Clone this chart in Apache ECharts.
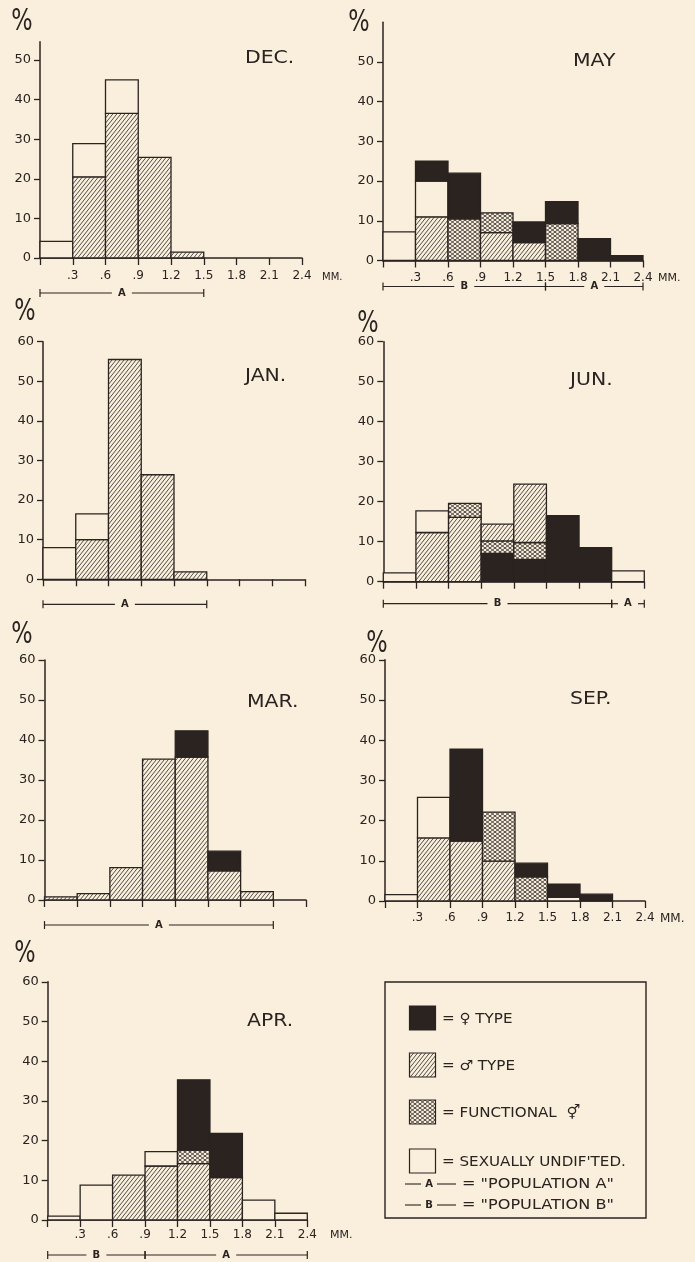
<!DOCTYPE html>
<html><head><meta charset="utf-8">
<script src="https://cdn.jsdelivr.net/npm/echarts@6/dist/echarts.min.js"></script>
<style>html,body{margin:0;padding:0;background:#f9efdc;}#c{width:695px;height:1262px;}</style>
</head><body><div id="c"></div>
<script>
// ---------- DATA ----------
const binEdges = [0, 0.3, 0.6, 0.9, 1.2, 1.5, 1.8, 2.1, 2.4];
const xTickLabels = ['.3', '.6', '.9', '1.2', '1.5', '1.8', '2.1', '2.4'];
const yTicks50 = [0, 10, 20, 30, 40, 50];
const yTicks60 = [0, 10, 20, 30, 40, 50, 60];

const decMale       = [0, 20.5, 36.5, 25.4, 1.5, 0, 0, 0];
const decFunctional = [0, 0, 0, 0, 0, 0, 0, 0];
const decUndif      = [4.2, 8.4, 8.5, 0, 0, 0, 0, 0];
const decFemale     = [0, 0, 0, 0, 0, 0, 0, 0];

const mayMale       = [0, 11, 0, 7, 4.5, 0, 0, 0];
const mayFunctional = [0, 0, 10.5, 5, 0, 9.3, 0, 0];
const mayUndif      = [7.2, 9, 0, 0, 0, 0, 0, 0];
const mayFemale     = [0, 5, 11.5, 0, 5.2, 5.5, 5.5, 1.2];

const janMale       = [0, 10, 55.5, 26.4, 1.9, 0, 0, 0];
const janFunctional = [0, 0, 0, 0, 0, 0, 0, 0];
const janUndif      = [8, 6.5, 0, 0, 0, 0, 0, 0];
const janFemale     = [0, 0, 0, 0, 0, 0, 0, 0];

const junMale       = [0, 12.3, 16.1, 4.2, 14.6, 0, 0, 0];
const junFunctional = [0, 0, 3.5, 3.1, 4.2, 0, 0, 0];
const junUndif      = [2.2, 5.4, 0, 0, 0, 0, 0, 2.7];
const junFemale     = [0, 0, 0, 7.1, 5.6, 16.5, 8.5, 0];

const marMale       = [0.8, 1.6, 8.1, 35.2, 35.7, 7.3, 2.1, 0];
const marFunctional = [0, 0, 0, 0, 0, 0, 0, 0];
const marUndif      = [0, 0, 0, 0, 0, 0, 0, 0];
const marFemale     = [0, 0, 0, 0, 6.6, 4.9, 0, 0];

const sepMale       = [0, 15.7, 14.9, 9.9, 0, 0, 0, 0];
const sepFunctional = [0, 0, 0, 12.2, 6, 0, 0, 0];
const sepUndif      = [1.6, 10.1, 0, 0, 0, 0.9, 0, 0];
const sepFemale     = [0, 0, 22.9, 0, 3.4, 3.3, 1.7, 0];

const aprMale       = [0, 0, 11.3, 13.6, 14.2, 10.7, 0, 0];
const aprFunctional = [0, 0, 0, 0, 3.4, 0, 0, 0];
const aprUndif      = [1.0, 8.8, 0, 3.6, 0, 0, 5.0, 1.7];
const aprFemale     = [0, 0, 0, 0, 17.7, 11.1, 0, 0];

// stacking order (bottom to top) within a bin
const defaultOrder = ['male', 'functional', 'undif', 'female'];
const femaleFirst = ['female', 'functional', 'male'];
const junOrder = [defaultOrder, defaultOrder, defaultOrder, femaleFirst, femaleFirst, defaultOrder, defaultOrder, defaultOrder];

// population ranges [label, from mm, to mm]
const decPopulation = [['A', 0, 1.5]];
const mayPopulation = [['B', 0, 1.5], ['A', 1.5, 2.4]];
const janPopulation = [['A', 0, 1.5]];
const junPopulation = [['B', 0, 2.1], ['A', 2.1, 2.4]];
const marPopulation = [['A', 0, 2.1]];
const sepPopulation = [];
const aprPopulation = [['B', 0, 0.9], ['A', 0.9, 2.4]];

// ---------- STYLE ----------
const ink = '#2a2320';
const bg = '#f9efdc';
const FONT = 'DejaVu Sans';

function makeHatch() {
  const w = 4, h = 5;
  const c = document.createElement('canvas'); c.width = w; c.height = h;
  const g = c.getContext('2d');
  g.fillStyle = bg; g.fillRect(0, 0, w, h);
  g.strokeStyle = ink; g.lineWidth = 0.8;
  for (const o of [-w, 0, w]) {
    g.beginPath(); g.moveTo(o - 1, h + 1.25); g.lineTo(o + w + 1, -1.25); g.stroke();
  }
  return { image: c, repeat: 'repeat' };
}
function makeCross() {
  const w = 5, h = 4;
  const c = document.createElement('canvas'); c.width = w; c.height = h;
  const g = c.getContext('2d');
  g.fillStyle = bg; g.fillRect(0, 0, w, h);
  g.strokeStyle = ink; g.lineWidth = 0.8;
  for (const o of [-w, 0, w]) {
    g.beginPath(); g.moveTo(o - 1.25, h + 1); g.lineTo(o + w + 1.25, -1); g.stroke();
    g.beginPath(); g.moveTo(o - 1.25, -1); g.lineTo(o + w + 1.25, h + 1); g.stroke();
  }
  return { image: c, repeat: 'repeat' };
}
const fills = { male: makeHatch(), functional: makeCross(), undif: bg, female: ink };
const typeList = ['male', 'functional', 'undif', 'female'];

function buildSegments(male, functional, undif, female, orders) {
  const vals = { male, functional, undif, female };
  const out = [];
  for (let b = 0; b < binEdges.length - 1; b++) {
    const order = orders ? orders[b] : defaultOrder;
    let base = 0;
    for (const t of order) {
      const v = vals[t][b];
      if (v > 0) {
        out.push([binEdges[b], binEdges[b + 1], base, base + v, typeList.indexOf(t)]);
        base += v;
      }
    }
  }
  return out;
}

// ---------- LAYOUT ----------
const panels = [
  { title: 'DEC.', seg: buildSegments(decMale, decFunctional, decUndif, decFemale), pop: decPopulation,
    yTicks: yTicks50, ymax: 54.6, left: 40, width: 262, y0: 258, unit: 3.96, xLabels: true, xMargin: 12,
    mm: [322, 277, 10], popOff: 35, tPos: [245, 59], pct: [22, 22] },
  { title: 'MAY', seg: buildSegments(mayMale, mayFunctional, mayUndif, mayFemale), pop: mayPopulation,
    yTicks: yTicks50, ymax: 60, left: 383, width: 260, y0: 260.5, unit: 3.97, xLabels: true, xMargin: 11,
    mm: [658, 278, 11], popOff: 26, tPos: [573, 62], pct: [359, 23] },
  { title: 'JAN.', seg: buildSegments(janMale, janFunctional, janUndif, janFemale), pop: janPopulation,
    yTicks: yTicks60, ymax: 60, left: 43, width: 262, y0: 579.3, unit: 3.96, xLabels: false,
    popOff: 25, tPos: [245, 377], pct: [25, 312] },
  { title: 'JUN.', seg: buildSegments(junMale, junFunctional, junUndif, junFemale, junOrder), pop: junPopulation,
    yTicks: yTicks60, ymax: 60, left: 383.3, width: 261, y0: 581.7, unit: 4.0, xLabels: false,
    popOff: 22, tPos: [570, 381], pct: [368, 324] },
  { title: 'MAR.', seg: buildSegments(marMale, marFunctional, marUndif, marFemale), pop: marPopulation,
    yTicks: yTicks60, ymax: 60, left: 44.5, width: 261.5, y0: 900, unit: 4.0, xLabels: false,
    popOff: 25, tPos: [247, 703], pct: [22, 635] },
  { title: 'SEP.', seg: buildSegments(sepMale, sepFunctional, sepUndif, sepFemale), pop: sepPopulation,
    yTicks: yTicks60, ymax: 60, left: 385, width: 260, y0: 901, unit: 4.02, xLabels: true, xMargin: 11,
    mm: [660, 919, 12], popOff: 30, tPos: [570, 700], pct: [377, 644] },
  { title: 'APR.', seg: buildSegments(aprMale, aprFunctional, aprUndif, aprFemale), pop: aprPopulation,
    yTicks: yTicks60, ymax: 60, left: 47.7, width: 259.6, y0: 1220, unit: 3.97, xLabels: true, xMargin: 9,
    mm: [330, 1235, 11], popOff: 35, tPos: [247, 1022], pct: [25, 954] }
];

function renderSegment(params, api) {
  const a = api.coord([api.value(0), api.value(2)]);
  const b = api.coord([api.value(1), api.value(3)]);
  const t = typeList[api.value(4)];
  return {
    type: 'rect',
    shape: { x: a[0], y: b[1], width: b[0] - a[0], height: a[1] - b[1] },
    style: { fill: fills[t], stroke: ink, lineWidth: 1.3 }
  };
}
function makePopRender(pop, offset) {
  return function (params, api) {
    const a = api.coord([api.value(0), 0]);
    const b = api.coord([api.value(1), 0]);
    const y = a[1] + offset;
    const mid = (a[0] + b[0]) / 2;
    const gap = Math.min(10, (b[0] - a[0]) / 2 - 5);
    const ls = { stroke: ink, lineWidth: 1.2 };
    return {
      type: 'group',
      children: [
        { type: 'line', shape: { x1: a[0], y1: y, x2: mid - gap, y2: y }, style: ls },
        { type: 'line', shape: { x1: mid + gap, y1: y, x2: b[0], y2: y }, style: ls },
        { type: 'line', shape: { x1: a[0], y1: y - 4, x2: a[0], y2: y + 4 }, style: ls },
        { type: 'line', shape: { x1: b[0], y1: y - 4, x2: b[0], y2: y + 4 }, style: ls },
        { type: 'text', style: { text: pop[params.dataIndex][0], x: mid, y: y, align: 'center', verticalAlign: 'middle',
            textAlign: 'center', textVerticalAlign: 'middle', fontSize: 10, fontWeight: 'bold', fontFamily: FONT, fill: ink } }
      ]
    };
  };
}

const grid = [], xAxis = [], yAxis = [], series = [], graphic = [];
panels.forEach((p, i) => {
  const height = p.ymax * p.unit;
  grid.push({ left: p.left, top: p.y0 - height, width: p.width, height: height, containLabel: false, outerBoundsMode: 'none' });
  xAxis.push({
    type: 'value', gridIndex: i, min: 0, max: 2.4, interval: 0.3,
    axisLine: { show: true, onZero: false, lineStyle: { color: ink, width: 1.5 } },
    axisTick: { show: true, length: 7, lineStyle: { color: ink, width: 1.3 } },
    splitLine: { show: false },
    axisLabel: {
      show: p.xLabels, margin: p.xMargin || 11, fontSize: 12, fontFamily: FONT, color: ink,
      formatter: v => { const k = Math.round(v / 0.3); return k > 0 ? xTickLabels[k - 1] : ''; }
    }
  });
  yAxis.push({
    type: 'value', gridIndex: i, min: 0, max: p.ymax,
    axisLine: { show: true, lineStyle: { color: ink, width: 1.5 } },
    axisTick: { show: true, length: 6, customValues: p.yTicks, lineStyle: { color: ink, width: 1.3 } },
    splitLine: { show: false },
    axisLabel: { customValues: p.yTicks, margin: 9, fontSize: 13, fontFamily: FONT, color: ink }
  });
  series.push({
    type: 'custom', xAxisIndex: i, yAxisIndex: i, data: p.seg, encode: { x: [0, 1], y: [2, 3] },
    renderItem: renderSegment, clip: false, silent: true, z: 3
  });
  if (p.pop.length) {
    series.push({
      type: 'custom', xAxisIndex: i, yAxisIndex: i, data: p.pop.map(s => [s[1], s[2], 0]),
      encode: { x: [0, 1], y: 2 }, renderItem: makePopRender(p.pop, p.popOff), clip: false, silent: true
    });
  }
  graphic.push({ type: 'text', x: p.tPos[0], y: p.tPos[1], scaleX: 1.2,
    style: { text: p.title, fontSize: 17, fontFamily: FONT, fill: ink, align: 'left', verticalAlign: 'middle',
             textAlign: 'left', textVerticalAlign: 'middle' } });
  graphic.push({ type: 'text', x: p.pct[0], y: p.pct[1], scaleX: 0.75,
    style: { text: '%', fontSize: 30, fontFamily: FONT, fill: ink, align: 'center', verticalAlign: 'middle',
             textAlign: 'center', textVerticalAlign: 'middle' } });
  if (p.mm) {
    graphic.push({ type: 'text', x: p.mm[0], y: p.mm[1],
      style: { text: 'MM.', fontSize: p.mm[2], fontFamily: FONT, fill: ink, align: 'left', verticalAlign: 'middle',
               textAlign: 'left', textVerticalAlign: 'middle' } });
  }
});

// ---------- LEGEND ----------
const legendItems = [
  { fill: fills.female, text: '= \u2640 TYPE', y: 1006 },
  { fill: fills.male, text: '= \u2642 TYPE', y: 1053 },
  { fill: fills.functional, text: '= FUNCTIONAL  \u26A5', y: 1100 },
  { fill: bg, text: "= SEXUALLY UNDIF'TED.", y: 1149 }
];
graphic.push({ type: 'rect', shape: { x: 385, y: 982, width: 261, height: 236 }, style: { fill: 'transparent', stroke: ink, lineWidth: 1.4 } });
legendItems.forEach(it => {
  graphic.push({ type: 'rect', shape: { x: 409.5, y: it.y, width: 26, height: 24 }, style: { fill: it.fill, stroke: ink, lineWidth: 1.2 } });
  graphic.push({ type: 'text', x: 442, y: it.y + 13, scaleX: 1.08,
    style: { text: it.text, fontSize: 14, fontFamily: FONT, fill: ink, align: 'left', verticalAlign: 'middle',
             textAlign: 'left', textVerticalAlign: 'middle' } });
});
[['A', 1184, '= "POPULATION A"'], ['B', 1205, '= "POPULATION B"']].forEach(r => {
  const ls = { stroke: ink, lineWidth: 1.1 };
  graphic.push({ type: 'line', shape: { x1: 405, y1: r[1], x2: 421, y2: r[1] }, style: ls });
  graphic.push({ type: 'line', shape: { x1: 437, y1: r[1], x2: 456, y2: r[1] }, style: ls });
  graphic.push({ type: 'text', x: 429, y: r[1],
    style: { text: r[0], fontSize: 10, fontWeight: 'bold', fontFamily: FONT, fill: ink, align: 'center', verticalAlign: 'middle',
             textAlign: 'center', textVerticalAlign: 'middle' } });
  graphic.push({ type: 'text', x: 462, y: r[1], scaleX: 1.15,
    style: { text: r[2], fontSize: 14, fontFamily: FONT, fill: ink, align: 'left', verticalAlign: 'middle',
             textAlign: 'left', textVerticalAlign: 'middle' } });
});

const chart = echarts.init(document.getElementById('c'), null, { renderer: 'canvas', width: 695, height: 1262 });
chart.setOption({
  backgroundColor: bg,
  animation: false,
  textStyle: { fontFamily: FONT },
  grid, xAxis, yAxis, series, graphic
});
</script>
</body></html>
